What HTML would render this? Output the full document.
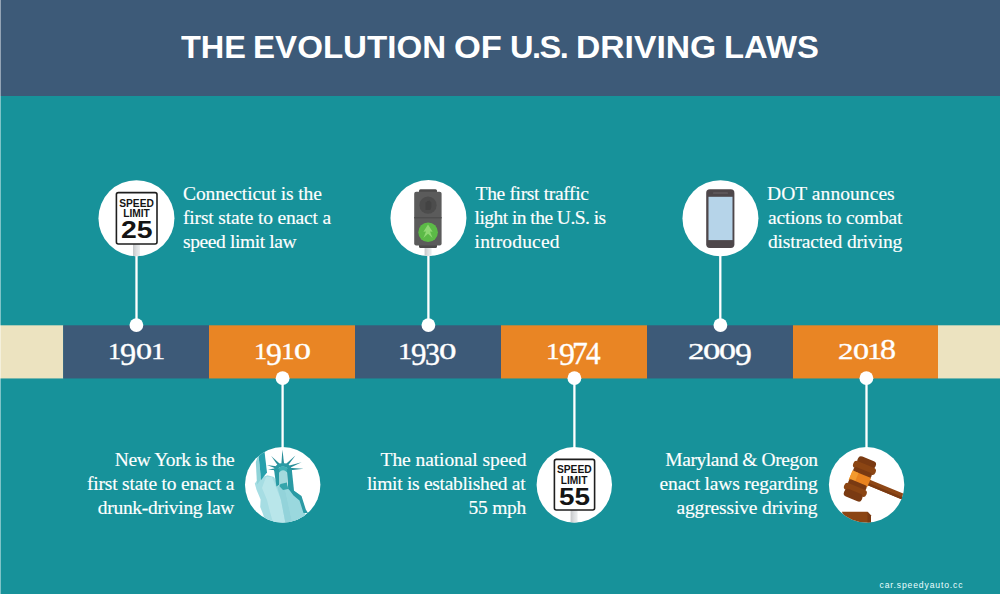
<!DOCTYPE html>
<html><head><meta charset="utf-8">
<style>
*{margin:0;padding:0;box-sizing:border-box}
html,body{width:1000px;height:594px;overflow:hidden;background:#17929a}
body{position:relative;font-family:"Liberation Serif",serif;color:#fff}
.hdr{position:absolute;left:0;top:0;width:1000px;height:96px;background:#3d5a78}
.title{position:absolute;left:0;top:26px;width:1000px;text-align:center;font-family:"Liberation Sans",sans-serif;font-weight:bold;font-size:33px;line-height:40px;letter-spacing:0px;color:#fff;white-space:nowrap}
.tw{position:absolute;transform-origin:0 0;top:27px;font-family:"Liberation Sans",sans-serif;font-weight:bold;font-size:32px;line-height:40px;color:#fff;white-space:nowrap}
.band{position:absolute;top:325.4px;height:53.1px}
.cream{background:#ece3c0}
.blue{background:#3d5a78}
.orange{background:#e98524}
.dg{-webkit-text-stroke:.35px #fff;position:absolute;color:#fff;transform-origin:0 0;line-height:1;white-space:nowrap}
.circ{position:absolute;width:76px;height:76px;border-radius:50%;background:#fff;overflow:hidden}
.vl{position:absolute;width:2px;background:#fff}
.dot{position:absolute;width:14px;height:14px;border-radius:50%;background:#fff}
.ln{-webkit-text-stroke:.15px #fff;position:absolute;font-size:19.5px;line-height:24px;height:24px;color:#fff;white-space:nowrap}
.txt.r{text-align:right}
.wm{position:absolute;left:879.5px;top:580px;font-family:"Liberation Sans",sans-serif;font-size:8.6px;letter-spacing:.86px;color:#eaffff;line-height:10px;white-space:nowrap}
.edge{position:absolute;left:0;top:0;width:1px;height:594px;background:rgba(255,255,255,.45)}
</style></head><body>
<div class="hdr"></div>
<div class="tw" style="left:181.2px;transform:scaleX(1.0158)">THE</div>
<div class="tw" style="left:253.2px;transform:scaleX(1.0343)">EVOLUTION</div>
<div class="tw" style="left:454.2px;transform:scaleX(1.0787)">OF</div>
<div class="tw" style="left:510.2px;letter-spacing:-1.5px;transform:scaleX(1.0168)">U.S.</div>
<div class="tw" style="left:576.2px;transform:scaleX(1.0516)">DRIVING</div>
<div class="tw" style="left:724.2px;transform:scaleX(1.0261)">LAWS</div>


<svg width="1000" height="594" viewBox="0 0 1000 594" style="position:absolute;left:0;top:0">
<defs>
<linearGradient id="post" x1="0" x2="1" y1="0" y2="0"><stop offset="0" stop-color="#c4c6c8"/><stop offset=".5" stop-color="#dcdee0"/><stop offset="1" stop-color="#eceeef"/></linearGradient>
<clipPath id="k1"><circle cx="136.45" cy="218.2" r="38"/></clipPath>
<clipPath id="k2"><circle cx="428.45" cy="218.1" r="38"/></clipPath>
<clipPath id="k4"><circle cx="282.7" cy="484.8" r="37.7"/></clipPath>
<clipPath id="k5"><circle cx="574.3" cy="484.8" r="37.7"/></clipPath>
<clipPath id="k6"><circle cx="866.6" cy="484.8" r="37.7"/></clipPath>
</defs>
<!-- bands -->
<g shape-rendering="auto">
<rect x="0" y="325.3" width="63.2" height="53.15" fill="#ece3c0"/>
<rect x="63.2" y="325.3" width="145.8" height="53.15" fill="#3d5a78"/>
<rect x="209" y="325.3" width="146" height="53.15" fill="#e98524"/>
<rect x="355" y="325.3" width="146" height="53.15" fill="#3d5a78"/>
<rect x="501" y="325.3" width="146" height="53.15" fill="#e98524"/>
<rect x="647" y="325.3" width="146" height="53.15" fill="#3d5a78"/>
<rect x="793" y="325.3" width="145" height="53.15" fill="#e98524"/>
<rect x="938" y="325.3" width="62" height="53.15" fill="#ece3c0"/>
</g>
<!-- connectors -->
<g fill="#fff">
<rect x="135.35" y="250" width="2.3" height="75"/>
<rect x="427.25" y="250" width="2.3" height="75"/>
<rect x="719.15" y="250" width="2.3" height="75"/>
<rect x="281.45" y="378" width="2.3" height="75"/>
<rect x="573.25" y="378" width="2.3" height="75"/>
<rect x="865.35" y="378" width="2.3" height="75"/>
<circle cx="136.4" cy="325.1" r="6.9"/>
<circle cx="428.4" cy="325.1" r="6.9"/>
<circle cx="720.4" cy="325.1" r="6.9"/>
<circle cx="282.6" cy="378.2" r="6.9"/>
<circle cx="574.4" cy="378.2" r="6.9"/>
<circle cx="866.4" cy="378.2" r="6.9"/>
<circle cx="136.45" cy="218.2" r="38"/>
<circle cx="428.45" cy="218.1" r="38"/>
<circle cx="720.45" cy="218.2" r="38"/>
<circle cx="282.7" cy="484.8" r="37.7"/>
<circle cx="574.3" cy="484.8" r="37.7"/>
<circle cx="866.6" cy="484.8" r="37.7"/>
</g>
<!-- ICON1 speed 25 -->
<g clip-path="url(#k1)">
<rect x="133" y="244" width="7" height="14" fill="url(#post)"/>
<rect x="116.4" y="192.6" width="40.6" height="51.4" rx="2" fill="#fff" stroke="#1e1e1e" stroke-width="1.6"/>
<g font-family="Liberation Sans, sans-serif" font-weight="bold" fill="#141414" text-anchor="middle">
<text transform="translate(136.50 206.50) scale(0.1006)" font-size="100" textLength="344.1" lengthAdjust="spacingAndGlyphs">SPEED</text>
<text transform="translate(136.50 217.30) scale(0.1006)" font-size="100" textLength="264.0" lengthAdjust="spacingAndGlyphs">LIMIT</text>
<text transform="translate(136.80 238.40) scale(0.2402)" font-size="100" textLength="131.5" lengthAdjust="spacingAndGlyphs">25</text>
</g>
</g>
<!-- ICON2 traffic light -->
<g clip-path="url(#k2)">
<rect x="424.6" y="246" width="7" height="12" fill="url(#post)"/>
<rect x="419" y="189.3" width="18" height="5" rx="1.5" fill="#4b4b4b"/>
<rect x="419" y="243" width="18" height="5" rx="1.5" fill="#4b4b4b"/>
<rect x="414.2" y="191.8" width="27.4" height="53.8" rx="2" fill="#5b5b5b"/>
<rect x="414.2" y="217" width="27.4" height="1.4" fill="#4e4e4e"/>
<circle cx="428" cy="205.2" r="8.6" fill="#4c4c4c"/>
<path d="M425.5 210v-7.5a.8.8 0 0 1 1.4 0v-1.2a.8.8 0 0 1 1.5 0v-.3a.8.8 0 0 1 1.5 0v1a.8.8 0 0 1 1.4 0v5.5l-1 2.5z" fill="#434343"/>
<circle cx="428.1" cy="232.2" r="9.8" fill="#5cba47"/>
<path d="M428 224.6l4.6 7.2-2.6-.3 2.6 6.6-4.6-4.300-4.6 4.300 2.600-6.600-2.600.300z" fill="#8fd873"/>
</g>
<!-- ICON3 phone -->
<g>
<rect x="706.2" y="189.3" width="28.2" height="58.6" rx="3.6" fill="#4e474a"/>
<rect x="708.5" y="196.8" width="24" height="43.3" fill="#b6d4e9"/>
<rect x="713" y="192.4" width="15" height="1.2" rx=".6" fill="#6c6669"/>
</g>
<!-- ICON4 statue -->
<g clip-path="url(#k4)">
<polygon points="258.8,478.2 254.8,483.6 256.5,489.8 260.6,499.6 260.2,507 263,514 266.5,526 305.5,526 305,510 301,496.5 294.5,491.5 287,486 279,486 274,477 267.5,475.3" fill="#a6dde3"/>
<polygon points="266,477 272,477 281,500 286,526 274,526 270,512 267,500 262,488" fill="#b9e6ea"/>
<polygon points="285,489 294.5,491.5 301,496.5 305,510 305.5,526 293,526" fill="#9ad8de"/>
<polygon points="277,486 285,489 293,526 286,526 281,500" fill="#93d3da"/>
<polygon points="255.8,462 258.4,455 261.1,479.3 257,484.5" fill="#8fd3d8"/>
<polygon points="258.2,452 264.2,449 267,472.5 261.1,480" fill="#27a0ac"/>
<g fill="#2a8f9a">
<polygon points="284.1,463.7 282.4,449.6 281.4,463.7"/>
<polygon points="280.3,464.2 271.2,456.0 278.2,466.0"/>
<polygon points="287.6,466.1 295.4,455.6 285.6,464.2"/>
<polygon points="277.9,466.5 267.0,465.0 277.2,469.1"/>
<polygon points="277.4,467.9 268.0,469.4 277.4,470.6"/>
<polygon points="288.5,468.5 301.6,462.2 287.6,466.0"/>
<polygon points="288.4,470.4 303.6,468.8 288.4,467.7"/>
</g>
<path d="M274 471C274 460.200 291.800 460.200 291.800 471L288.300 471C288.300 465.200 277.500 465.200 277.500 471Z" fill="#2a9aa4"/>
<path d="M277 471C277 465 288.800 465 288.800 471L288.800 472.500 277 472.500Z" fill="#3fb0b5"/>
<polygon points="274,469.5 279.3,468.5 279.7,484.5 276.4,486.5" fill="#2a9aa4"/>
<polygon points="286.800,468.500 291.800,469.500 294.200,492.500 288.200,489" fill="#2a9aa4"/>
<path d="M279.200 486V473.800C279.200 469 287 469 287 473.800V486Z" fill="#a3dadd"/>
<polygon points="280.5,484 287,482.6 288.2,489 283,490 279.2,486" fill="#35a5ab"/>
<polygon points="288.200,488.500 294.500,491 301.500,496 305.800,509.500 308,513 303.500,513 299.500,500.500 293.500,495.500" fill="#2a9aa4"/>
</g>
<!-- ICON5 speed 55 -->
<g clip-path="url(#k5)">
<rect x="570.6" y="510" width="7" height="14" fill="url(#post)"/>
<rect x="554.4" y="459.4" width="40.2" height="50.6" rx="2" fill="#fff" stroke="#1e1e1e" stroke-width="1.6"/>
<g font-family="Liberation Sans, sans-serif" font-weight="bold" fill="#141414" text-anchor="middle">
<text transform="translate(574.30 472.90) scale(0.1006)" font-size="100" textLength="346.1" lengthAdjust="spacingAndGlyphs">SPEED</text>
<text transform="translate(574.10 483.60) scale(0.1006)" font-size="100" textLength="264.0" lengthAdjust="spacingAndGlyphs">LIMIT</text>
<text transform="translate(574.45 505.00) scale(0.2402)" font-size="100" textLength="129.0" lengthAdjust="spacingAndGlyphs">55</text>
</g>
</g>
<!-- ICON6 gavel -->
<g clip-path="url(#k6)">
<polygon points="842,511.800 867.500,511.800 871,515.500 871,526 846,526" fill="#8b4513"/>
<polygon points="867.500,511.800 871,515.500 871,526 867.500,526" fill="#7a3a12"/>
<g transform="translate(859.9 478.9) rotate(22.5) scale(1.07)">
<rect x="3" y="-2.9" width="60" height="5.6" rx="1" fill="#8e4716"/>
<rect x="3" y="0.5" width="60" height="2.2" fill="#7a3a12"/>
<rect x="-9" y="-20.200" width="18" height="7.500" rx="3.2" fill="#7a3a12"/>
<rect x="-11.200" y="-14.600" width="22.400" height="7" rx="3.2" fill="#8b4513"/>
<rect x="-9" y="-9" width="18" height="5.500" rx="2" fill="#7a3a12"/>
<rect x="-9.300" y="-4.700" width="18.600" height="9.400" fill="#e9831f"/>
<rect x="-9.300" y="-4.700" width="6" height="9.400" fill="#f39a2e"/>
<rect x="-9" y="3.500" width="18" height="5.500" rx="2" fill="#7a3a12"/>
<rect x="-11.200" y="7.600" width="22.400" height="7" rx="3.200" fill="#8b4513"/>
<rect x="-9" y="12.700" width="18" height="7.500" rx="3.200" fill="#7a3a12"/>
</g>
</g>
</svg>


<span class="dg" style="left:107.92px;top:339.85px;font-size:23.93px;transform:scaleX(1.092)">1</span>
<span class="dg" style="left:119.75px;top:339.54px;font-size:30.51px;transform:scaleX(1.060)">9</span>
<span class="dg" style="left:136.13px;top:340.15px;font-size:23.41px;transform:scaleX(1.371)">0</span>
<span class="dg" style="left:151.03px;top:339.77px;font-size:23.93px;transform:scaleX(1.187)">1</span>
<span class="dg" style="left:253.52px;top:339.85px;font-size:23.93px;transform:scaleX(1.092)">1</span>
<span class="dg" style="left:265.84px;top:339.54px;font-size:30.51px;transform:scaleX(1.044)">9</span>
<span class="dg" style="left:280.65px;top:339.86px;font-size:23.93px;transform:scaleX(1.140)">1</span>
<span class="dg" style="left:293.54px;top:340.16px;font-size:23.41px;transform:scaleX(1.451)">0</span>
<span class="dg" style="left:397.63px;top:339.77px;font-size:23.93px;transform:scaleX(1.187)">1</span>
<span class="dg" style="left:410.99px;top:339.55px;font-size:30.51px;transform:scaleX(1.014)">9</span>
<span class="dg" style="left:424.80px;top:339.55px;font-size:30.51px;transform:scaleX(0.984)">3</span>
<span class="dg" style="left:439.43px;top:340.16px;font-size:23.41px;transform:scaleX(1.491)">0</span>
<span class="dg" style="left:546.25px;top:339.86px;font-size:23.93px;transform:scaleX(1.140)">1</span>
<span class="dg" style="left:559.04px;top:339.54px;font-size:30.51px;transform:scaleX(1.044)">9</span>
<span class="dg" style="left:572.29px;top:338.25px;font-size:31.31px;transform:scaleX(1.009)">7</span>
<span class="dg" style="left:585.75px;top:338.31px;font-size:31.15px;transform:scaleX(0.939)">4</span>
<span class="dg" style="left:688.27px;top:340.01px;font-size:23.86px;transform:scaleX(1.380)">2</span>
<span class="dg" style="left:703.03px;top:340.16px;font-size:23.41px;transform:scaleX(1.491)">0</span>
<span class="dg" style="left:718.94px;top:340.16px;font-size:23.41px;transform:scaleX(1.451)">0</span>
<span class="dg" style="left:734.79px;top:339.55px;font-size:30.51px;transform:scaleX(1.106)">9</span>
<span class="dg" style="left:837.82px;top:340.01px;font-size:23.86px;transform:scaleX(1.296)">2</span>
<span class="dg" style="left:852.93px;top:340.15px;font-size:23.41px;transform:scaleX(1.371)">0</span>
<span class="dg" style="left:867.12px;top:339.89px;font-size:23.93px;transform:scaleX(1.282)">1</span>
<span class="dg" style="left:880.02px;top:334.39px;font-size:30.23px;transform:scaleX(1.062)">8</span>
<div class="ln" style="left:183.00px;top:181.9px;letter-spacing:-0.118px">Connecticut is the</div>
<div class="ln" style="left:183.00px;top:206.1px;letter-spacing:-0.167px">first state to enact a</div>
<div class="ln" style="left:183.00px;top:230.2px;letter-spacing:-0.393px">speed limit law</div>
<div class="ln" style="left:475.60px;top:181.9px;letter-spacing:-0.337px">The first traffic</div>
<div class="ln" style="left:474.60px;top:206.1px;letter-spacing:-0.547px">light in the U.S. is</div>
<div class="ln" style="left:474.60px;top:230.2px;letter-spacing:0.167px">introduced</div>
<div class="ln" style="left:767.00px;top:181.9px;letter-spacing:0.067px">DOT announces</div>
<div class="ln" style="left:768.00px;top:206.1px;letter-spacing:-0.200px">actions to combat</div>
<div class="ln" style="left:768.00px;top:230.2px;letter-spacing:-0.159px">distracted driving</div>
<div class="ln" style="left:114.80px;top:447.8px;letter-spacing:-0.407px">New York is the</div>
<div class="ln" style="left:87.00px;top:471.8px;letter-spacing:-0.195px">first state to enact a</div>
<div class="ln" style="left:97.80px;top:496.0px;letter-spacing:-0.294px">drunk-driving law</div>
<div class="ln" style="left:380.60px;top:447.8px;letter-spacing:-0.076px">The national speed</div>
<div class="ln" style="left:367.00px;top:471.8px;letter-spacing:-0.300px">limit is established at</div>
<div class="ln" style="left:468.60px;top:496.0px;letter-spacing:-0.260px">55 mph</div>
<div class="ln" style="left:665.20px;top:447.8px;letter-spacing:-0.400px">Maryland &amp; Oregon</div>
<div class="ln" style="left:659.60px;top:471.8px;letter-spacing:-0.168px">enact laws regarding</div>
<div class="ln" style="left:676.40px;top:496.0px;letter-spacing:-0.135px">aggressive driving</div>
<div class="edge"></div>
<div class="wm">car.speedyauto.cc</div>
</body></html>
